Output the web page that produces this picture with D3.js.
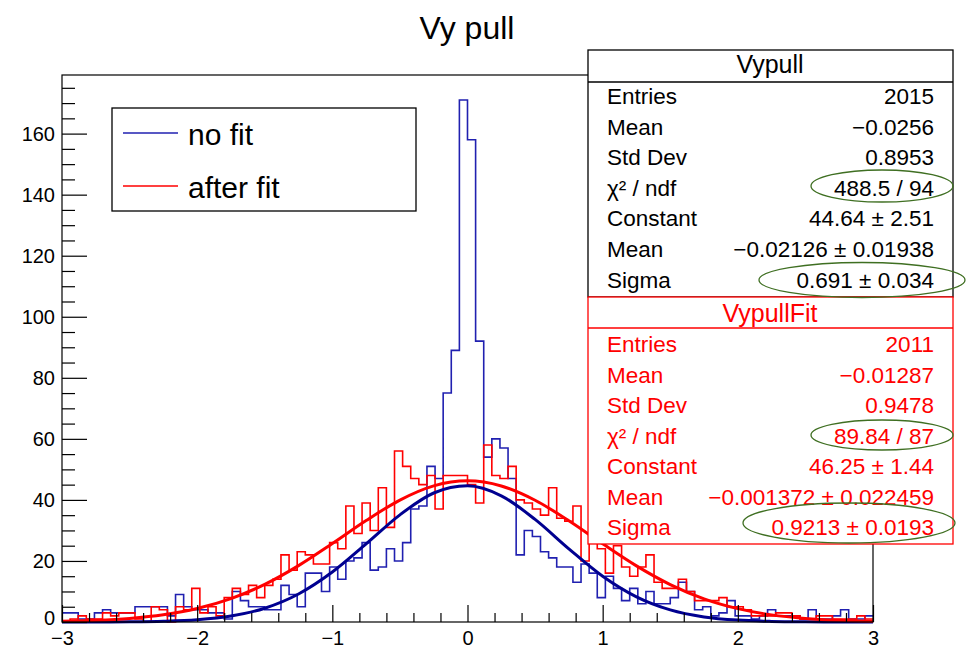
<!DOCTYPE html>
<html><head><meta charset="utf-8">
<script src="https://cdn.jsdelivr.net/npm/d3@7"></script>
<style>body{margin:0;background:#fff} text{font-family:"Liberation Sans",Arial,Helvetica,sans-serif}</style>
</head><body><svg id="c" width="966" height="650"></svg>
<script>
// ---------------- data ----------------
const xDomain = [-3, 3];
const nBins = 100;
const noFitCounts = [3,3,1,1,3,4,3,3,3,5, 5,5,5,2,9,5,4,4,3,3, 1,10,7,5,5,4,4,12,9,5,
  16,16,10,18,14,20,21,26,17,18, 24,20,26,37,38,51,47,75,89,171, 158,92,54,60,57,47,22,30,28,23,
  21,18,18,13,19,16,8,15,11,7, 11,6,10,6,6,8,13,10,4,5, 2,3,7,2,2,1,2,4,2,2, 2,1,4,1,1,2,4,1,1,2];
const afterFitCounts = [0,1,2,1,1,3,2,3,3,1, 0,5,4,0,5,4,11,3,5,2, 8,11,9,12,8,12,14,22,17,23,
  22,19,19,26,24,38,29,39,30,44, 31,56,51,47,45,48,37,48,48,48, 45,39,58,48,47,51,40,39,37,35,
  44,34,33,38,20,30,24,16,25,18, 15,18,22,13,11,11,14,10,7,7, 7,8,5,5,4,2,2,2,3,3, 2,1,1,2,2,1,1,1,2,1];
// fit curves, sampled
const fitX = [-3,-2.75,-2.5,-2.25,-2,-1.75,-1.5,-1.25,-1,-0.75,-0.5,-0.25,0,0.25,0.5,0.75,1,1.25,1.5,1.75,2,2.25,2.5,2.75,3];
const noFitFit = [0.004,0.018,0.071,0.246,0.739,1.95,4.52,9.18,16.36,25.59,35.11,42.26,44.62,41.34,33.60,23.95,14.98,8.23,3.96,1.67,0.62,0.20,0.057,0.014,0.003];
const afterFitFit = [0.231,0.540,1.17,2.35,4.40,7.64,12.32,18.47,25.70,33.24,39.95,44.60,46.25,44.56,39.89,33.17,25.62,18.39,12.26,7.59,4.37,2.33,1.16,0.535,0.229];
const yMajorTicks = [0,20,40,60,80,100,120,140,160];
const xMajorTicks = [-3,-2,-1,0,1,2,3];
const legendLabels = ["no fit","after fit"];
const title = "Vy pull";
const stats1Title = "Vypull";
const stats1Labels = ["Entries","Mean","Std Dev","χ² / ndf","Constant","Mean","Sigma"];
const stats1Values = ["2015","−0.0256","0.8953","488.5 / 94","44.64 ± 2.51","−0.02126 ± 0.01938","0.691 ± 0.034"];
const stats2Title = "VypullFit";
const stats2Labels = ["Entries","Mean","Std Dev","χ² / ndf","Constant","Mean","Sigma"];
const stats2Values = ["2011","−0.01287","0.9478","89.84 / 87","46.25 ± 1.44","−0.001372 ± 0.022459","0.9213 ± 0.0193"];

// ---------------- drawing ----------------
const svg = d3.select("#c");
const BLUE_H = "#2020b0", BLUE_F = "#000090", RED = "#ff0000", GREEN = "#3f6f22";
const x = d3.scaleLinear().domain(xDomain).range([62, 873]);
const y = d3.scaleLinear().domain([0, 179.2]).range([622, 75]);
const bw = (xDomain[1] - xDomain[0]) / nBins;

svg.append("rect").attr("width", 966).attr("height", 650).attr("fill", "#fff");

// title
svg.append("text").attr("x", 467).attr("y", 39).attr("text-anchor", "middle")
  .attr("font-size", 32).text(title);

// histograms
function histPts(c) {
  const p = c.map((v, i) => [xDomain[0] + i * bw, v]);
  p.push([xDomain[1], c[c.length - 1]]);
  return p;
}
const stepLine = d3.line().x(d => x(d[0])).y(d => y(d[1])).curve(d3.curveStepAfter);
const smooth = d3.line().x(d => x(d[0])).y(d => y(d[1])).curve(d3.curveMonotoneX);

svg.append("path").attr("d", stepLine(histPts(noFitCounts))).attr("fill", "none")
  .attr("stroke", BLUE_H).attr("stroke-width", 1.6);
svg.append("path").attr("d", stepLine(histPts(afterFitCounts))).attr("fill", "none")
  .attr("stroke", RED).attr("stroke-width", 1.6);
svg.append("path").attr("d", smooth(fitX.map((v, i) => [v, noFitFit[i]]))).attr("fill", "none")
  .attr("stroke", BLUE_F).attr("stroke-width", 3);
svg.append("path").attr("d", smooth(fitX.map((v, i) => [v, afterFitFit[i]]))).attr("fill", "none")
  .attr("stroke", RED).attr("stroke-width", 3);

// frame
svg.append("rect").attr("x", 62).attr("y", 75).attr("width", 811).attr("height", 547)
  .attr("fill", "none").attr("stroke", "#000").attr("stroke-width", 1.2);

// axes
function styleAxis(g) {
  g.select(".domain").remove();
  g.selectAll("line").attr("stroke", "#000").attr("stroke-width", 1.2);
  g.selectAll("text").attr("font-size", 20).attr("fill", "#000")
    .attr("font-family", '"Liberation Sans",Arial,sans-serif');
}
const yMinor = d3.range(0, 180, 5).filter(v => v % 20 !== 0);
svg.append("g").attr("transform", "translate(62,0)")
  .call(d3.axisLeft(y).tickValues(yMinor).tickSize(-13).tickFormat("")).call(styleAxis);
svg.append("g").attr("transform", "translate(62,0)")
  .call(d3.axisLeft(y).tickValues(yMajorTicks).tickSize(-25).tickPadding(7).tickFormat(d3.format("d")))
  .call(styleAxis)
  .selectAll(".tick").filter(d => d === 0).select("text").attr("dy", "0.12em");
const xMinor = d3.range(-30, 31, 2).filter(v => v % 10 !== 0).map(v => v / 10);
svg.append("g").attr("transform", "translate(0,622)")
  .call(d3.axisBottom(x).tickValues(xMinor).tickSize(-9).tickFormat("")).call(styleAxis);
svg.append("g").attr("transform", "translate(0,622)")
  .call(d3.axisBottom(x).tickValues(xMajorTicks).tickSize(-17).tickPadding(9).tickFormat(d3.format("d")))
  .call(styleAxis);

// legend
const lg = svg.append("g");
lg.append("rect").attr("x", 112).attr("y", 108).attr("width", 304).attr("height", 103)
  .attr("fill", "#fff").attr("stroke", "#000").attr("stroke-width", 1.3);
[[BLUE_H, 133], [RED, 186]].forEach(([c, yy], i) => {
  lg.append("line").attr("x1", 123).attr("x2", 178).attr("y1", yy).attr("y2", yy)
    .attr("stroke", c).attr("stroke-width", 1.6);
  lg.append("text").attr("x", 188).attr("y", yy + 12).attr("font-size", 30).text(legendLabels[i]);
});

// stats boxes
function statsBox(top, bottom, divider, titleBase, firstBase, step, color, ttl, labels, values) {
  const g = svg.append("g");
  g.append("rect").attr("x", 588).attr("y", top).attr("width", 365).attr("height", bottom - top)
    .attr("fill", "#fff").attr("stroke", color).attr("stroke-width", 1.3);
  g.append("line").attr("x1", 588).attr("x2", 953).attr("y1", divider).attr("y2", divider)
    .attr("stroke", color).attr("stroke-width", 1.3);
  g.append("text").attr("x", 770).attr("y", titleBase).attr("text-anchor", "middle")
    .attr("font-size", 25).attr("fill", color).text(ttl);
  labels.forEach((l, i) => {
    const yy = firstBase + i * step;
    g.append("text").attr("x", 607).attr("y", yy).attr("font-size", 22.5).attr("fill", color).text(l);
    g.append("text").attr("x", 934).attr("y", yy).attr("text-anchor", "end")
      .attr("font-size", 22.5).attr("fill", color).text(values[i]);
  });
  return g;
}
statsBox(50, 297, 82, 73, 104, 30.6, "#000", stats1Title, stats1Labels, stats1Values);
statsBox(297, 544, 328, 322, 352, 30.5, RED, stats2Title, stats2Labels, stats2Values);

// annotation ellipses
const ell = [[882, 186, 71, 16], [862, 280, 103, 17.5], [882, 435, 71, 15], [849, 523, 106, 20]];
ell.forEach(e => svg.append("ellipse").attr("cx", e[0]).attr("cy", e[1]).attr("rx", e[2]).attr("ry", e[3])
  .attr("fill", "none").attr("stroke", GREEN).attr("stroke-width", 1.3));
</script></body></html>
